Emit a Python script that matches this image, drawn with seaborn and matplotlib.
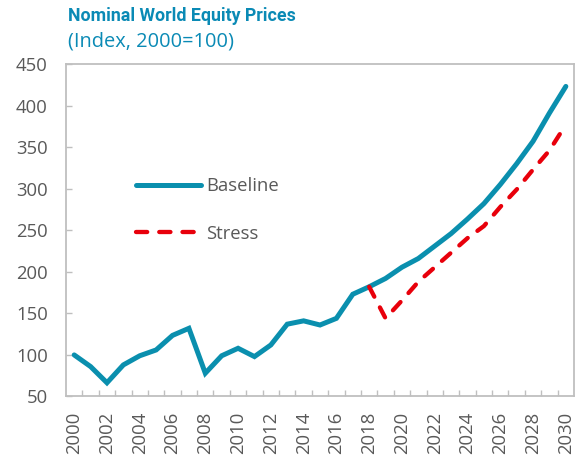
import numpy as np
import pandas as pd
import matplotlib
matplotlib.use("Agg")
import matplotlib.pyplot as plt
import seaborn as sns

years = list(range(2000, 2031))
baseline = [100, 86, 66.5, 88, 99, 106, 123.5, 132, 78, 99, 108, 98, 112, 137,
            141, 136, 144, 173, 182, 192, 205.5, 216, 231, 246, 263.5, 282,
            305, 330, 357, 391, 423]
stress_years = list(range(2018, 2031))
stress = [182, 144, 165.5, 188, 205.5, 223, 240.5, 255, 278, 299, 323, 346, 377]

series_names = ["Baseline", "Stress"]
title = "Nominal World Equity Prices"
subtitle = "(Index, 2000=100)"

df = pd.concat([
    pd.DataFrame({"year": years, "value": baseline, "series": series_names[0]}),
    pd.DataFrame({"year": stress_years, "value": stress, "series": series_names[1]}),
])

sns.set_style("white")
plt.rcParams["font.family"] = ["Open Sans", "DejaVu Sans"]

teal = "#0A8FAE"
red = "#E8000B"
grey_txt = "#595959"
frame = "#BFBFBF"
dash = (2.6, 2.8)

fig = plt.figure(figsize=(5.81, 4.57), dpi=100)
ax = fig.add_axes([0.1136, 0.1324, 0.8744, 0.7276])

sns.lineplot(data=df[df.series == "Baseline"], x="year", y="value", ax=ax,
             color=teal, linewidth=3.6, label="Baseline",
             solid_capstyle="round", solid_joinstyle="miter")
sns.lineplot(data=df[df.series == "Stress"], x="year", y="value", ax=ax,
             color=red, linewidth=3.1, label="Stress")
stress_line = ax.lines[-1]
stress_line.set_dashes(dash)
stress_line.set_dash_capstyle("round")

ax.set_xlim(1999.5, 2030.5)
ax.set_ylim(50, 450)
ax.set_xticks(range(2000, 2031, 2))
ax.set_xticklabels([str(y) for y in range(2000, 2031, 2)], rotation=90)
ax.set_xticks(np.arange(2000.5, 2030.5, 1), minor=True)
ax.set_yticks(range(50, 451, 50))
ax.tick_params(axis="x", which="major", length=0, pad=11, labelsize=13.3, labelcolor=grey_txt)
ax.tick_params(axis="x", which="minor", direction="in", length=4, width=1, color=frame, bottom=True)
ax.tick_params(axis="y", which="major", direction="in", length=4, width=1, color=frame,
               labelsize=13.3, labelcolor=grey_txt, pad=13, left=True)
ax.set_xlabel("")
ax.set_ylabel("")
for s in ax.spines.values():
    s.set_color(frame)
    s.set_linewidth(1.3)

leg = ax.legend(loc="upper left", bbox_to_anchor=(0.105, 0.71), frameon=False,
                fontsize=13.3, handlelength=3.5, handletextpad=0.32, labelspacing=1.6,
                labelcolor=grey_txt)
leg.get_lines()[1].set_dashes(dash)
leg.get_lines()[1].set_dash_capstyle("round")

fig.text(0.117, 0.966, title, color="#0A8AB5", fontsize=12.8, fontweight="bold",
         family=["Roboto", "DejaVu Sans"], ha="left", va="center")
fig.text(0.117, 0.91, subtitle, color="#0A8AB5", fontsize=14.4, ha="left", va="center")

fig.savefig("out.png", dpi=100)
